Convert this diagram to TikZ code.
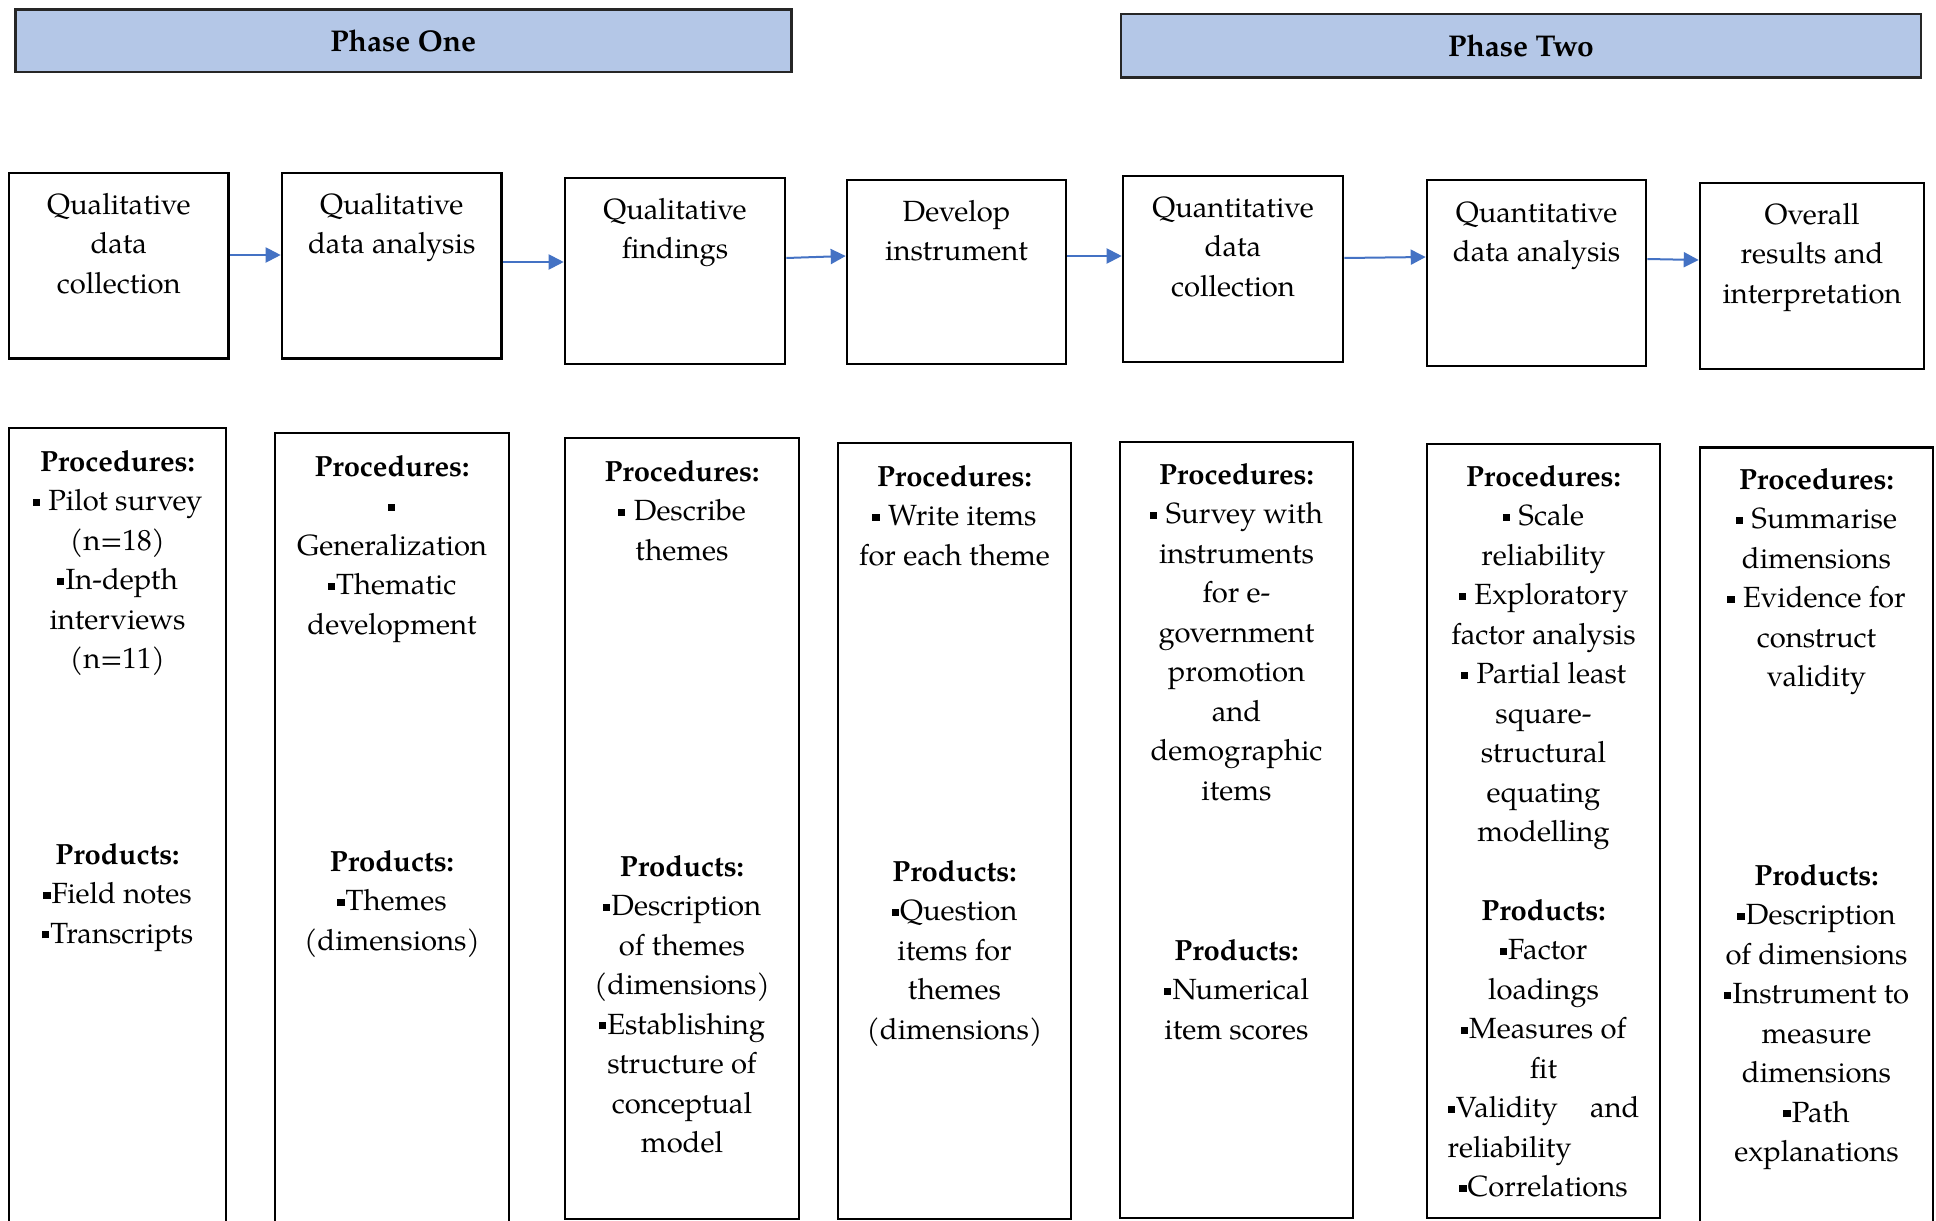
\documentclass[tikz,border=0pt]{standalone}
\usepackage{fontspec}
\setmainfont{texgyrepagella}[Extension=.otf, UprightFont=*-regular, BoldFont=*-bold, ItalicFont=*-italic, BoldItalicFont=*-bolditalic]
\usetikzlibrary{arrows.meta,fit}

\definecolor{bandblue}{HTML}{B4C7E7}
\definecolor{arrowblue}{HTML}{4472C4}

% small square bullet
\newcommand\sqbul{\rule[0.16em]{0.25em}{0.25em}\kern0.04em}
% centred block of lines whose base is the first baseline
\newcommand\stagepar[2]{\parbox[t]{#1}{\centering #2}}

\tikzset{
  frame/.style={draw=black, line width=1.3pt, inner sep=0pt, fill=white},
  band/.style={draw=black!85, line width=1.3pt, fill=bandblue, inner sep=0pt},
  bandtext/.style={inner sep=0pt, font=\bfseries\fontsize{15pt}{18pt}\selectfont},
  stagetext/.style={anchor=base, inner sep=0pt, font=\fontsize{14.6pt}{19.75pt}\selectfont},
  flow/.style={draw=arrowblue, line width=1pt, -{Triangle[length=7.5pt,width=7.5pt]}},
}

\begin{document}
\begin{tikzpicture}[x=0.5pt, y=-0.5pt]
\useasboundingbox (0,0) rectangle (1936,1220);
\clip (0,0) rectangle (1936,1220);
\fill[white] (0,0) rectangle (1936,1220);

% phase banners
\node[band, fit={(15.3,9.3) (791.3,72)}] (ph1) {};
\node[bandtext] (ph1txt) at (ph1.center) {Phase One};
\node[band, fit={(1121,14) (1921,77.7)}] (ph2) {};
\node[bandtext] (ph2txt) at (ph2.center) {Phase Two};

% stage boxes
\node[frame, fit={(9,173) (228.6,358.7)}] (t1) {};
\node[frame, fit={(282,173) (501.5,358.7)}] (t2) {};
\node[frame, fit={(565,178) (785,364)}] (t3) {};
\node[frame, fit={(847,180) (1066,364)}] (t4) {};
\node[frame, fit={(1123,176) (1343,362)}] (t5) {};
\node[frame, fit={(1427,180) (1646,366)}] (t6) {};
\node[frame, fit={(1700,183) (1924,369)}] (t7) {};

\node[stagetext] (t1txt) at (t1.north |- 0,214) {\stagepar{105pt}{Qualitative\\data\\collection}};
\node[stagetext] (t2txt) at (t2.north |- 0,214) {\stagepar{105pt}{Qualitative\\data analysis}};
\node[stagetext] (t3txt) at (t3.north |- 0,219) {\stagepar{105pt}{Qualitative\\findings}};
\node[stagetext] (t4txt) at (t4.north |- 0,221) {\stagepar{105pt}{Develop\\instrument}};
\node[stagetext] (t5txt) at (t5.north |- 0,217) {\stagepar{105pt}{Quantitative\\data\\collection}};
\node[stagetext] (t6txt) at (t6.north |- 0,222) {\stagepar{105pt}{Quantitative\\data analysis}};
\node[stagetext] (t7txt) at (t7.north |- 0,224) {\stagepar{108pt}{Overall\\results and\\interpretation}};

% flow between stages
\draw[flow] (t1.east |- 0,255) -- (t2.west |- 0,255);
\draw[flow] (t2.east |- 0,262) -- (t3.west |- 0,262);
\draw[flow] (t3.east |- 0,258) -- (t4.west |- 0,256);
\draw[flow] (t4.east |- 0,256) -- (t5.west |- 0,256);
\draw[flow] (t5.east |- 0,258) -- (t6.west |- 0,257);
\draw[flow] (t6.east |- 0,259) -- (t7.west |- 0,260);

% detail columns
\node[frame, fit={(9,428) (226,1240)}] (b1) {};
\node[frame, fit={(275,433) (509,1240)}] (b2) {};
\node[frame, fit={(565,438) (799,1219)}] (b3) {};
\node[frame, fit={(838,443) (1071,1219)}] (b4) {};
\node[frame, fit={(1120,442) (1353,1218)}] (b5) {};
\node[frame, fit={(1427,444) (1660,1218)}] (b6) {};
\node[frame, fit={(1700,447.6) (1933,1240)}] (b7) {};

\node[stagetext] (b1proc) at (b1.north |- 0,471) {\stagepar{104pt}{\textbf{Procedures:}\\\sqbul{} Pilot survey\\(n=18)\\\sqbul In-depth\\interviews\\(n=11)}};
\node[stagetext] (b1prod) at (b1.north |- 0,864) {\stagepar{104pt}{\textbf{Products:}\\\sqbul Field notes\\\sqbul Transcripts}};

\node[stagetext] (b2proc) at (b2.north |- 0,476) {\stagepar{112pt}{\textbf{Procedures:}\\\sqbul\\Generalization\\\sqbul Thematic\\development}};
\node[stagetext] (b2prod) at (b2.north |- 0,871) {\stagepar{112pt}{\textbf{Products:}\\\sqbul Themes\\(dimensions)}};

\node[stagetext] (b3proc) at (b3.north |- 0,481) {\stagepar{112pt}{\textbf{Procedures:}\\\sqbul{} Describe\\themes}};
\node[stagetext] (b3prod) at (b3.north |- 0,876) {\stagepar{112pt}{\textbf{Products:}\\\sqbul Description\\of themes\\(dimensions)\\\sqbul Establishing\\structure of\\conceptual\\model}};

\node[stagetext] (b4proc) at (b4.north |- 0,486) {\stagepar{112pt}{\textbf{Procedures:}\\\sqbul{} Write items\\for each theme}};
\node[stagetext] (b4prod) at (b4.north |- 0,881) {\stagepar{112pt}{\textbf{Products:}\\\sqbul Question\\items for\\themes\\(dimensions)}};

\node[stagetext] (b5proc) at (b5.north |- 0,484) {\stagepar{112pt}{\textbf{Procedures:}\\\sqbul{} Survey with\\instruments\\for e-\\government\\promotion\\and\\demographic\\items}};
\node[stagetext] (b5prod) at (b5.north |- 0,960) {\stagepar{112pt}{\textbf{Products:}\\\sqbul Numerical\\item scores}};

\node[stagetext] (b6proc) at (b6.north |- 0,486) {\stagepar{112pt}{\textbf{Procedures:}\\\sqbul{} Scale\\reliability\\\sqbul{} Exploratory\\factor analysis\\\sqbul{} Partial least\\square-\\structural\\equating\\modelling}};
\node[stagetext] (b6prod) at (b6.north |- 0,920) {\stagepar{112pt}{\textbf{Products:}\\\sqbul Factor\\loadings\\\sqbul Measures of\\fit\\\makebox[96pt]{\sqbul Validity\hfill and}\\\makebox[96pt][l]{reliability}\\\sqbul Correlations}};

\node[stagetext] (b7proc) at (b7.north |- 0,489) {\stagepar{112pt}{\textbf{Procedures:}\\\sqbul{} Summarise\\dimensions\\\sqbul{} Evidence for\\construct\\validity}};
\node[stagetext] (b7prod) at (b7.north |- 0,885) {\stagepar{112pt}{\textbf{Products:}\\\sqbul Description\\of dimensions\\\sqbul Instrument to\\measure\\dimensions\\\sqbul Path\\explanations}};
\end{tikzpicture}
\end{document}
